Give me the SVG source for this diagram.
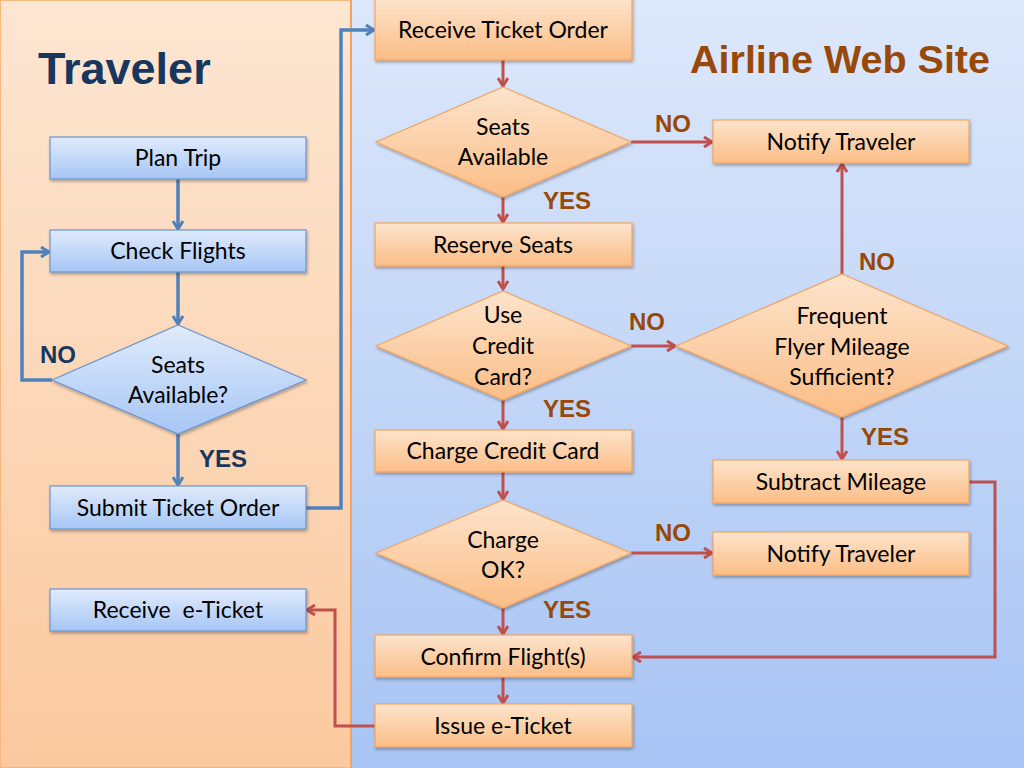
<svg xmlns="http://www.w3.org/2000/svg" width="1024" height="768" viewBox="0 0 1024 768">
<defs>
<linearGradient id="laneL" x1="0" y1="0" x2="0" y2="1"><stop offset="0" stop-color="#fde6d2"/><stop offset="1" stop-color="#fbc99f"/></linearGradient>
<linearGradient id="laneR" x1="0" y1="0" x2="0" y2="1"><stop offset="0" stop-color="#dde8fb"/><stop offset="1" stop-color="#a7c4f4"/></linearGradient>
<linearGradient id="gB" x1="0" y1="0" x2="0" y2="1"><stop offset="0" stop-color="#e0ebfc"/><stop offset="1" stop-color="#a6c6f5"/></linearGradient>
<linearGradient id="gO" x1="0" y1="0" x2="0" y2="1"><stop offset="0" stop-color="#fde4cc"/><stop offset="1" stop-color="#fbbd86"/></linearGradient>
<filter id="sh" x="-10%" y="-10%" width="130%" height="140%"><feDropShadow dx="1" dy="2" stdDeviation="1.5" flood-color="#000" flood-opacity="0.3"/></filter>
<marker id="aB" viewBox="0 0 12 12" refX="10" refY="6" markerWidth="12" markerHeight="12" markerUnits="userSpaceOnUse" orient="auto"><path d="M2,1 L10,6 L2,11" fill="none" stroke="#4f81bd" stroke-width="3"/></marker>
<marker id="aR" viewBox="0 0 12 12" refX="10" refY="6" markerWidth="12" markerHeight="12" markerUnits="userSpaceOnUse" orient="auto"><path d="M2,1 L10,6 L2,11" fill="none" stroke="#c0504d" stroke-width="3"/></marker>
</defs>
<style>
.bn{fill:url(#gB);stroke:#6b95cf;stroke-width:1.2;filter:url(#sh)}
.on{fill:url(#gO);stroke:#f4a460;stroke-width:1.2;filter:url(#sh)}
.t{font-family:Lato,"Liberation Sans",sans-serif;font-size:23px;fill:#000;text-anchor:middle}
.cb{fill:none;stroke:#4f81bd;stroke-width:3.5;marker-end:url(#aB)}
.cr{fill:none;stroke:#c0504d;stroke-width:3;marker-end:url(#aR)}
.lb{font-family:"Liberation Sans",Arial,sans-serif;font-weight:bold;font-size:24px;fill:#17375e}
.lr{font-family:"Liberation Sans",Arial,sans-serif;font-weight:bold;font-size:24px;fill:#984807}
</style>
<rect x="0" y="0" width="351" height="768" fill="url(#laneL)" stroke="#f8b77f" stroke-width="2"/>
<rect x="351" y="0" width="673" height="768" fill="url(#laneR)"/>
<line x1="351" y1="0" x2="351" y2="768" stroke="#f4a460" stroke-width="2"/>
<text x="38" y="84" font-family="Liberation Sans,Arial,sans-serif" font-weight="bold" font-size="45" fill="#17375e">Traveler</text>
<text x="990" y="73" text-anchor="end" font-family="Liberation Sans,Arial,sans-serif" font-weight="bold" font-size="39.5" fill="#984807">Airline Web Site</text>

<g id="connectors">
<path class="cb" d="M178,179 V229"/>
<path class="cb" d="M178,272 V324"/>
<path class="cb" d="M52,380 H22 V252 H49"/>
<path class="cb" d="M178,434 V485"/>
<path class="cb" d="M306,508 H341 V30 H374"/>
<path class="cr" d="M503,60 V86"/>
<path class="cr" d="M631,142 H712"/>
<path class="cr" d="M503,197 V222"/>
<path class="cr" d="M503,266 V289"/>
<path class="cr" d="M631,346 H675"/>
<path class="cr" d="M842,274 V164"/>
<path class="cr" d="M842,417 V459"/>
<path class="cr" d="M503,400 V429"/>
<path class="cr" d="M503,472 V499"/>
<path class="cr" d="M631,553 H712"/>
<path class="cr" d="M503,608 V634"/>
<path class="cr" d="M969,482 H995 V657 H633"/>
<path class="cr" d="M503,677 V703"/>
<path class="cr" d="M375,726 H335 V610 H307"/>
<text class="lb" x="40" y="363">NO</text>
<text class="lb" x="199" y="467">YES</text>
<text class="lr" x="655" y="132">NO</text>
<text class="lr" x="543" y="209">YES</text>
<text class="lr" x="629" y="330">NO</text>
<text class="lr" x="859" y="270">NO</text>
<text class="lr" x="861" y="445">YES</text>
<text class="lr" x="543" y="417">YES</text>
<text class="lr" x="655" y="541">NO</text>
<text class="lr" x="543" y="618">YES</text>
</g>

<g id="plan-trip"><rect class="bn" x="50" y="137" width="256" height="42"/><text class="t" x="178" y="166">Plan Trip</text></g>
<g id="check-flights"><rect class="bn" x="50" y="230" width="256" height="42"/><text class="t" x="178" y="259">Check Flights</text></g>
<g id="seats-available-q"><polygon class="bn" points="178,325 306,380 178,434 52,380"/><text class="t" x="178" y="373">Seats</text><text class="t" x="178" y="403">Available?</text></g>
<g id="submit-ticket-order"><rect class="bn" x="50" y="486" width="256" height="43"/><text class="t" x="178" y="516">Submit Ticket Order</text></g>
<g id="receive-eticket"><rect class="bn" x="50" y="589" width="256" height="42"/><text class="t" x="178" y="618" xml:space="preserve">Receive  e-Ticket</text></g>

<g id="receive-ticket-order"><rect class="on" x="375" y="-2" width="257" height="62"/><text class="t" x="503" y="38">Receive Ticket Order</text></g>
<g id="seats-available"><polygon class="on" points="503,87 631,142 503,197 376,142"/><text class="t" x="503" y="135">Seats</text><text class="t" x="503" y="165">Available</text></g>
<g id="reserve-seats"><rect class="on" x="375" y="223" width="257" height="43"/><text class="t" x="503" y="253">Reserve Seats</text></g>
<g id="use-credit-card"><polygon class="on" points="503,291 631,346 503,400 376,346"/><text class="t" x="503" y="323">Use</text><text class="t" x="503" y="354">Credit</text><text class="t" x="503" y="385">Card?</text></g>
<g id="charge-credit-card"><rect class="on" x="375" y="430" width="257" height="42"/><text class="t" x="503" y="459">Charge Credit Card</text></g>
<g id="charge-ok"><polygon class="on" points="503,500 631,553 503,608 376,553"/><text class="t" x="503" y="548">Charge</text><text class="t" x="503" y="578">OK?</text></g>
<g id="confirm-flights"><rect class="on" x="375" y="635" width="257" height="42"/><text class="t" x="503" y="665">Confirm Flight(s)</text></g>
<g id="issue-eticket"><rect class="on" x="375" y="704" width="257" height="43"/><text class="t" x="503" y="734">Issue e-Ticket</text></g>

<g id="notify-traveler-1"><rect class="on" x="713" y="120" width="256" height="43"/><text class="t" x="841" y="150">Notify Traveler</text></g>
<g id="frequent-flyer"><polygon class="on" points="842,274 1008,346 842,417 676,346"/><text class="t" x="842" y="324">Frequent</text><text class="t" x="842" y="355">Flyer Mileage</text><text class="t" x="842" y="385">Sufficient?</text></g>
<g id="subtract-mileage"><rect class="on" x="713" y="460" width="256" height="43"/><text class="t" x="841" y="490">Subtract Mileage</text></g>
<g id="notify-traveler-2"><rect class="on" x="713" y="532" width="256" height="43"/><text class="t" x="841" y="562">Notify Traveler</text></g>
</svg>
